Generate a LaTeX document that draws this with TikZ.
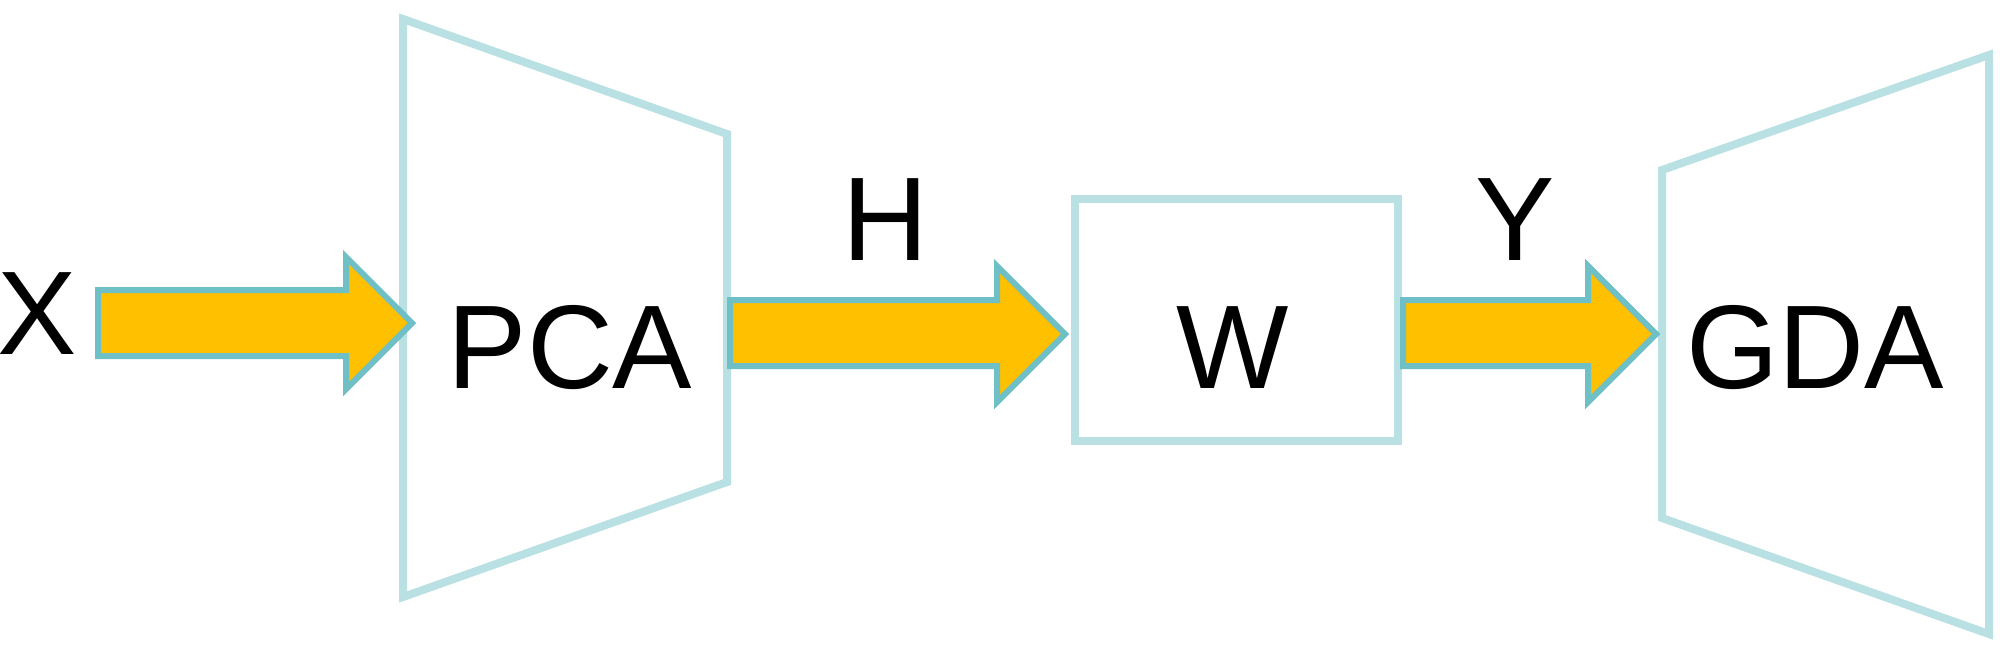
\documentclass[tikz,border=0pt]{standalone}
\usepackage{fontspec}
\setmainfont{Liberation Sans}
\definecolor{boxline}{HTML}{B9E0E3}
\definecolor{arrline}{HTML}{6FBFC6}
\definecolor{arrfill}{HTML}{FFC000}
\begin{document}
\begin{tikzpicture}[x=1pt,y=-1pt,
  shapeline/.style={draw=boxline,line width=8pt,line join=miter},
  blockarrow/.style={draw=arrline,fill=arrfill,line width=6pt,line join=miter},
  lbl/.style={anchor=base,inner sep=0pt,font=\fontsize{119}{124}\selectfont}]
\useasboundingbox (0,0) rectangle (2000,649);
% PCA trapezoid
\draw[shapeline] (403,19) -- (727,134) -- (727,482) -- (403,597) -- cycle;
% W box
\draw[shapeline] (1075,199) rectangle (1398,441);
% GDA trapezoid
\draw[shapeline] (1662,170) -- (1989,55) -- (1989,634) -- (1662,518) -- cycle;
% texts
\node[lbl] (x) at (37,354) {X};
\node[lbl] (pca) at (570,388) {PCA};
\node[lbl] (w) at (1233,388) {W};
\node[lbl] (gda) at (1815,388) {GDA};
\node[lbl] (h) at (885,260) {H};
\node[lbl] (y) at (1515,260) {Y};
% arrows
\draw[blockarrow] (98,290) -- (346,290) -- (346,257) -- (412,323) -- (346,389) -- (346,356) -- (98,356) -- cycle;
\draw[blockarrow] (730,300) -- (997,300) -- (997,266) -- (1065,334) -- (997,402) -- (997,366) -- (730,366) -- cycle;
\draw[blockarrow] (1403,300) -- (1588,300) -- (1588,266) -- (1656,334) -- (1588,402) -- (1588,366) -- (1403,366) -- cycle;
\end{tikzpicture}
\end{document}
